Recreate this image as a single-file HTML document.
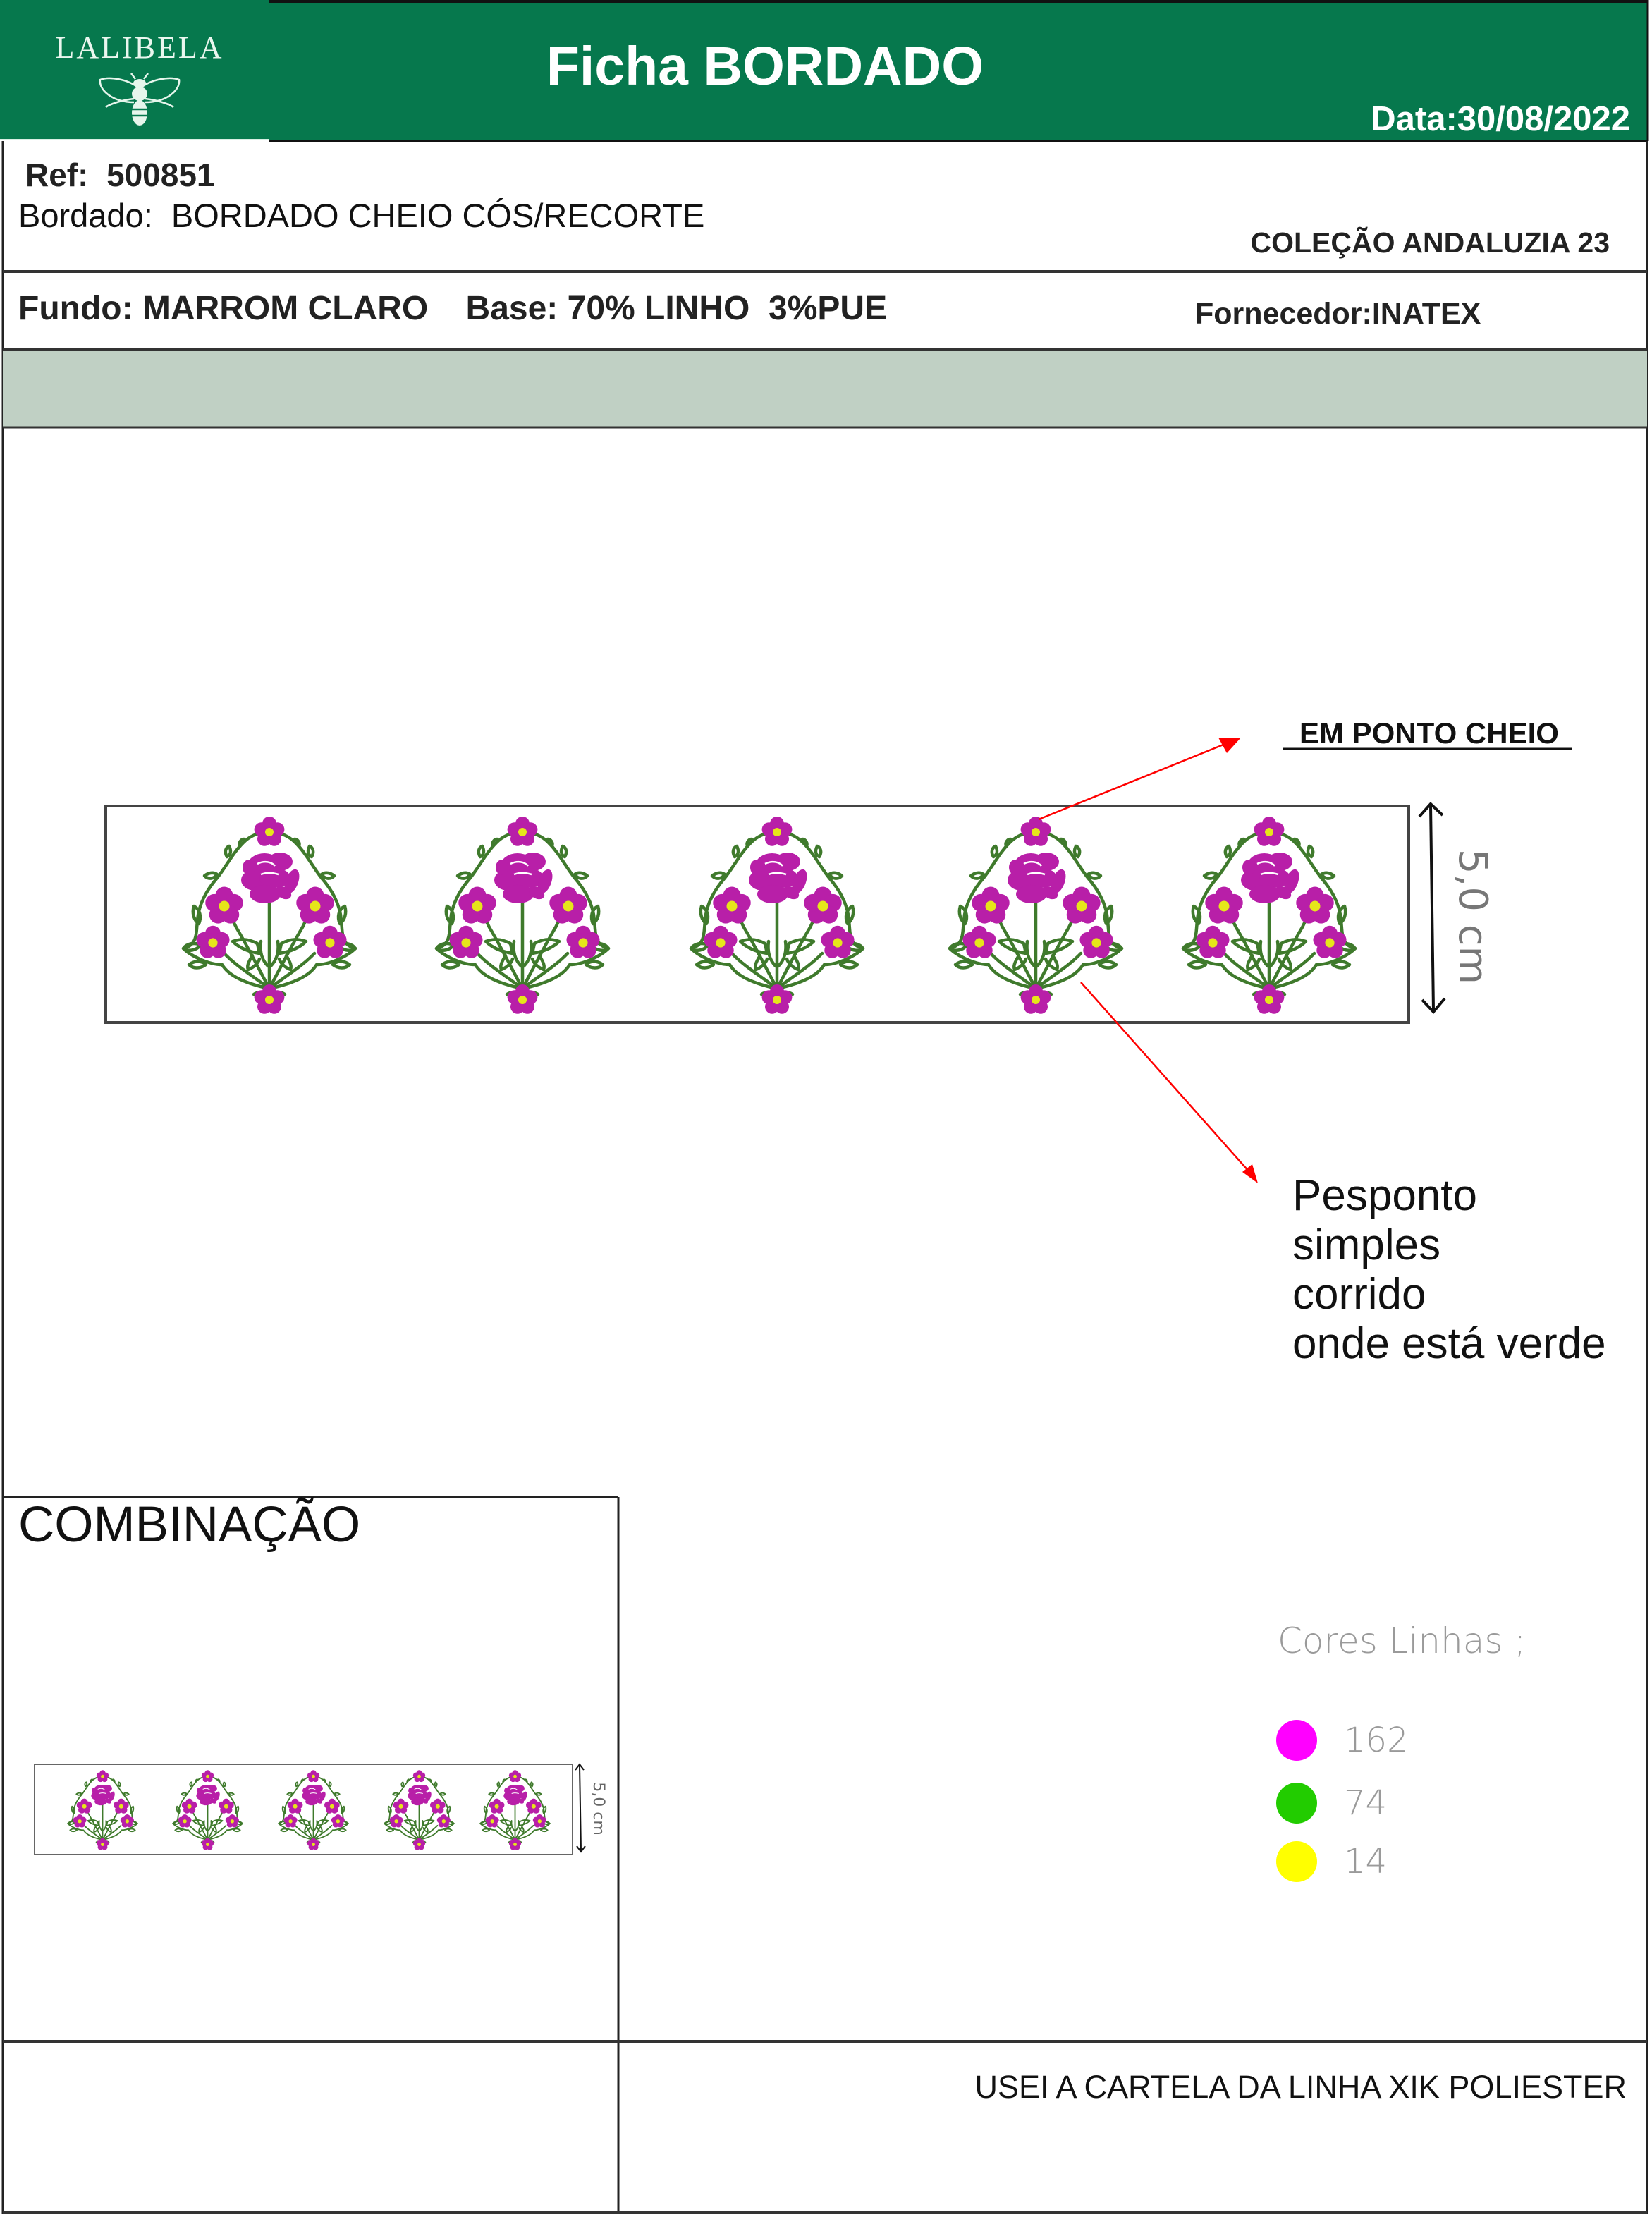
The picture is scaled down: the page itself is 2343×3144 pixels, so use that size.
<!DOCTYPE html>
<html><head><meta charset="utf-8"><style>
html,body{margin:0;padding:0;background:#fff;}
svg{display:block;}
text{white-space:pre;}
</style></head><body>
<svg width="2343" height="3144" viewBox="0 0 2343 3144" xmlns="http://www.w3.org/2000/svg" xml:space="preserve">
<defs>
  <g id="fl">
    <circle cx="0" cy="-12" r="10" fill="#b81fa8"/>
    <circle cx="11.4" cy="-3.7" r="10" fill="#b81fa8"/>
    <circle cx="7" cy="9.7" r="10" fill="#b81fa8"/>
    <circle cx="-7" cy="9.7" r="10" fill="#b81fa8"/>
    <circle cx="-11.4" cy="-3.7" r="10" fill="#b81fa8"/>
    <circle cx="0" cy="0" r="6" fill="#e6e61a"/>
  </g>
  <g id="motif">
    <g fill="none" stroke="#3f7a2c" stroke-width="4.5" stroke-linecap="round" stroke-linejoin="round">
      <path d="M142 262 C110 255 85 245 75 228 C55 228 30 215 20 205 C40 200 38 185 40 165 C42 140 55 120 68 105 C80 90 90 70 105 55 C115 45 125 42 135 40"/>
      <path d="M142 262 C174 255 199 245 209 228 C229 228 254 215 264 205 C244 200 246 185 244 165 C242 140 229 120 216 105 C204 90 194 70 179 55 C169 45 159 42 149 40"/>
      <path d="M142 262 L142 132"/>
      <path d="M142 262 C125 230 110 200 95 175 C90 165 88 160 86 158"/>
      <path d="M142 262 C159 230 174 200 189 175 C194 165 196 160 198 158"/>
      <path d="M142 262 C120 245 95 230 78 212"/>
      <path d="M142 262 C164 245 189 230 206 212"/>
      <path d="M125 198 C110 190 100 192 90 195 C100 205 115 210 128 212 Z"/>
      <path d="M159 198 C174 190 184 192 194 195 C184 205 169 210 156 212 Z"/>
      <path d="M130 195 C128 210 132 222 140 230 M154 195 C156 210 152 222 144 230"/>
      <path d="M118 215 C112 225 110 230 112 235 C120 232 126 226 128 220"/>
      <path d="M166 215 C172 225 174 230 172 235 C164 232 158 226 156 220"/>
      <path d="M20 205 C25 198 35 196 45 200 C38 208 28 210 20 205Z"/>
      <path d="M264 205 C259 198 249 196 239 200 C246 208 256 210 264 205Z"/>
      <path d="M28 228 C36 222 46 222 52 228 C44 234 34 234 28 228Z"/>
      <path d="M256 228 C248 222 238 222 232 228 C240 234 250 234 256 228Z"/>
      <path d="M35 145 C32 155 35 165 42 170 C46 160 44 150 35 145Z"/>
      <path d="M249 145 C252 155 249 165 242 170 C238 160 240 150 249 145Z"/>
      <path d="M68 100 C62 96 55 98 50 102 C56 108 64 106 68 100Z"/>
      <path d="M216 100 C222 96 229 98 234 102 C228 108 220 106 216 100Z"/>
      <path d="M82 75 C78 68 80 62 85 60 C88 66 88 72 82 75Z"/>
      <path d="M202 75 C206 68 204 62 199 60 C196 66 196 72 202 75Z"/>
      <path d="M100 60 C98 55 102 50 106 50"/>
      <path d="M184 60 C186 55 182 50 178 50"/>
      <path d="M120 270 C128 265 135 268 138 272 M164 270 C156 265 149 268 146 272"/>
    </g>
    <g fill="#b81fa8">
      <ellipse cx="135" cy="88" rx="24" ry="18"/>
      <ellipse cx="157" cy="82" rx="18" ry="13"/>
      <ellipse cx="122" cy="108" rx="20" ry="15"/>
      <ellipse cx="150" cy="105" rx="22" ry="14"/>
      <ellipse cx="174" cy="110" rx="9" ry="18" transform="rotate(20 174 110)"/>
      <ellipse cx="136" cy="128" rx="22" ry="13"/>
      <ellipse cx="162" cy="126" rx="12" ry="8" transform="rotate(30 162 126)"/>
      <ellipse cx="113" cy="90" rx="9" ry="11"/>
    </g>
    <path d="M125 85 C135 80 145 82 150 88 M130 100 C140 96 148 98 155 100" stroke="#fff" stroke-width="2.5" fill="none"/>
    <use href="#fl" transform="translate(142 40)"/>
    <use href="#fl" transform="translate(78 145) scale(1.25)"/>
    <use href="#fl" transform="translate(207 145) scale(1.25)"/>
    <use href="#fl" transform="translate(62 197) scale(1.1)"/>
    <use href="#fl" transform="translate(228 197) scale(1.1)"/>
    <use href="#fl" transform="translate(142 278)"/>
  </g>
</defs>

<rect x="0" y="0" width="2338" height="198" fill="#06784d"/>
<line x1="382" y1="2" x2="2338" y2="2" stroke="#111" stroke-width="4"/>
<line x1="0" y1="198" x2="382" y2="198" stroke="#d8efe4" stroke-width="2"/>
<line x1="382" y1="200" x2="2338" y2="200" stroke="#111" stroke-width="4"/>
<line x1="2337" y1="0" x2="2337" y2="200" stroke="#111" stroke-width="3"/>
<text x="198" y="82" text-anchor="middle" font-family="Liberation Serif, serif" font-size="44" fill="#eaf7ef" letter-spacing="3">LALIBELA</text>
<g fill="none" stroke="#e6f6ec" stroke-width="2.5">
  <path d="M196 124 C180 112 155 108 142 113 C140 128 160 145 190 145"/>
  <path d="M200 124 C216 112 241 108 254 113 C256 128 236 145 206 145"/>
  <path d="M190 140 C172 142 155 148 150 152 M206 140 C224 142 241 148 246 152"/>
  <path d="M192 112 L186 104 M204 112 L210 104"/>
</g>
<ellipse cx="198" cy="118" rx="9" ry="6" fill="#e6f6ec"/>
<ellipse cx="198" cy="133" rx="11" ry="10" fill="#e6f6ec"/>
<ellipse cx="198" cy="160" rx="11" ry="18" fill="#e6f6ec"/>
<path d="M187 155 H209 M187 164 H209" stroke="#06784d" stroke-width="2.5"/>
<text x="1085" y="120" text-anchor="middle" font-family="Liberation Sans, sans-serif" font-weight="bold" font-size="77" fill="#fff">Ficha BORDADO</text>
<text x="2312" y="185" text-anchor="end" font-family="Liberation Sans, sans-serif" font-weight="bold" font-size="49" fill="#fff">Data:30/08/2022</text>

<line x1="4" y1="200" x2="4" y2="2122" stroke="#222" stroke-width="3"/>
<line x1="2336" y1="200" x2="2336" y2="3140" stroke="#222" stroke-width="3"/>
<text x="36" y="264" font-family="Liberation Sans, sans-serif" font-weight="bold" font-size="46" fill="#222">Ref:  500851</text>
<text x="26" y="322" font-family="Liberation Sans, sans-serif" font-size="47" fill="#111">Bordado:  BORDADO CHEIO CÓS/RECORTE</text>
<text x="2283" y="358" text-anchor="end" font-family="Liberation Sans, sans-serif" font-weight="bold" font-size="41" fill="#222">COLEÇÃO ANDALUZIA 23</text>
<line x1="4" y1="385" x2="2336" y2="385" stroke="#333" stroke-width="4"/>
<text x="26" y="453" font-family="Liberation Sans, sans-serif" font-weight="bold" font-size="48" fill="#222">Fundo: MARROM CLARO    Base: 70% LINHO  3%PUE</text>
<text x="1695" y="459" font-family="Liberation Sans, sans-serif" font-weight="bold" font-size="43" fill="#222">Fornecedor:INATEX</text>
<line x1="4" y1="496" x2="2336" y2="496" stroke="#333" stroke-width="4"/>
<rect x="4" y="498" width="2332" height="108" fill="#c0d0c4"/>
<line x1="4" y1="606" x2="2336" y2="606" stroke="#333" stroke-width="3"/>

<rect x="150" y="1143" width="1848" height="307" fill="#fff" stroke="#444" stroke-width="4"/>
<use href="#motif" transform="translate(240 1140)"/>
<use href="#motif" transform="translate(599 1140)"/>
<use href="#motif" transform="translate(960 1140)"/>
<use href="#motif" transform="translate(1327 1140)"/>
<use href="#motif" transform="translate(1658 1140)"/>
<g stroke="#111" stroke-width="4" fill="none">
  <line x1="2029" y1="1142" x2="2033" y2="1433"/>
  <path d="M2013 1158 L2029 1140 L2046 1156"/>
  <path d="M2017 1418 L2033 1435 L2049 1416"/>
</g>
<text transform="translate(2070 1300) rotate(90)" text-anchor="middle" font-family="DejaVu Sans, sans-serif" font-size="56" fill="#777">5,0 cm</text>

<line x1="1473" y1="1162" x2="1740" y2="1054" stroke="#f00" stroke-width="2.5"/>
<path d="M1760 1046 L1728 1046 L1740 1068 Z" fill="#f00"/>
<text x="1843" y="1054" font-family="Liberation Sans, sans-serif" font-weight="bold" font-size="42" fill="#111">EM PONTO CHEIO</text>
<line x1="1820" y1="1062" x2="2230" y2="1062" stroke="#111" stroke-width="3"/>
<line x1="1533" y1="1393" x2="1772" y2="1662" stroke="#f00" stroke-width="2.5"/>
<path d="M1784 1678 L1762 1662 L1776 1651 Z" fill="#f00"/>
<g font-family="Liberation Sans, sans-serif" font-size="62" fill="#111">
<text x="1833" y="1716">Pesponto</text>
<text x="1833" y="1786">simples</text>
<text x="1833" y="1856">corrido</text>
<text x="1833" y="1926">onde está verde</text>
</g>

<line x1="4" y1="2123" x2="877" y2="2123" stroke="#222" stroke-width="3"/>
<line x1="877" y1="2123" x2="877" y2="3138" stroke="#222" stroke-width="3"/>
<line x1="4" y1="2122" x2="4" y2="3140" stroke="#222" stroke-width="3"/>
<text x="26" y="2186" font-family="Liberation Sans, sans-serif" font-size="71" fill="#111">COMBINAÇÃO</text>
<rect x="49" y="2502" width="763" height="128" fill="#fff" stroke="#666" stroke-width="2"/>
<use href="#motif" transform="translate(88 2503) scale(0.405)"/>
<use href="#motif" transform="translate(237 2503) scale(0.405)"/>
<use href="#motif" transform="translate(387 2503) scale(0.405)"/>
<use href="#motif" transform="translate(537 2503) scale(0.405)"/>
<use href="#motif" transform="translate(673 2503) scale(0.405)"/>
<g stroke="#111" stroke-width="2" fill="none">
  <line x1="822" y1="2503" x2="824" y2="2625"/>
  <path d="M816 2510 L822 2502 L828 2510 M818 2618 L824 2626 L830 2618"/>
</g>
<text transform="translate(842 2565) rotate(90)" text-anchor="middle" font-family="DejaVu Sans, sans-serif" font-size="22" fill="#666">5,0 cm</text>

<text x="1812" y="2344" font-family="DejaVu Sans, sans-serif" font-weight="200" font-size="50" fill="#9a9a9a">Cores Linhas ;</text>
<circle cx="1839" cy="2468" r="29" fill="#ff00ff"/>
<circle cx="1839" cy="2557" r="29" fill="#22cc00"/>
<circle cx="1839" cy="2640" r="29" fill="#ffff00"/>
<g font-family="DejaVu Sans, sans-serif" font-weight="200" font-size="48" fill="#9a9a9a">
<text x="1906" y="2484">162</text>
<text x="1906" y="2573">74</text>
<text x="1906" y="2656">14</text>
</g>

<line x1="4" y1="2895" x2="2336" y2="2895" stroke="#333" stroke-width="4"/>
<text x="2307" y="2975" text-anchor="end" font-family="Liberation Sans, sans-serif" font-size="45" fill="#111">USEI A CARTELA DA LINHA XIK POLIESTER</text>
<line x1="4" y1="3138" x2="2336" y2="3138" stroke="#333" stroke-width="4"/>
</svg>
</body></html>
